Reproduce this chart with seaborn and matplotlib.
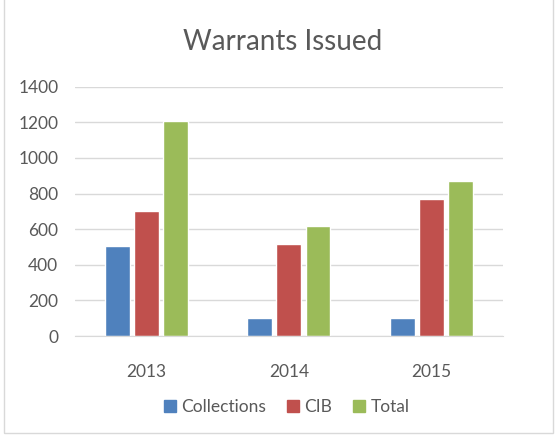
import matplotlib
matplotlib.use('Agg')
import matplotlib.pyplot as plt
import matplotlib.patches as mpatches
import pandas as pd
import seaborn as sns

years = ['2013', '2014', '2015']
collections = [505, 100, 100]
cib = [700, 515, 770]
total = [1205, 615, 870]
series = ['Collections', 'CIB', 'Total']
colors = ['#4F81BD', '#C0504D', '#9BBB59']

df = pd.DataFrame({
    'year': years * 3,
    'series': [s for s in series for _ in years],
    'value': collections + cib + total,
})

sns.set_style('white')
plt.rcParams['font.family'] = ['Lato', 'DejaVu Sans']

fig = plt.figure(figsize=(5.57, 4.37), dpi=100)
ax = fig.add_axes([0.1346, 0.2311, 0.7684, 0.5705])

sns.barplot(data=df, x='year', y='value', hue='series', palette=colors,
            width=0.61, gap=0.14, saturation=1, ax=ax, legend=True)

ax.set_ylim(0, 1400)
ax.set_yticks(range(0, 1401, 200))
ax.yaxis.grid(True, color='#d9d9d9', linewidth=1)
ax.set_axisbelow(True)
for side in ['top', 'right', 'left']:
    ax.spines[side].set_visible(False)
ax.spines['bottom'].set_color('#d9d9d9')
ax.tick_params(axis='both', length=0, colors='#595959', labelsize=12.5)
ax.tick_params(axis='y', pad=12)
ax.tick_params(axis='x', pad=20)
ax.set_xlabel('')
ax.set_ylabel('')

fig.text(0.508, 0.903, 'Warrants Issued', ha='center', va='center',
         fontsize=20, color='#595959')

handles = [mpatches.Patch(color=c, label=s) for s, c in zip(series, colors)]
ax.legend_.remove()
fig.legend(handles=handles, loc='center', bbox_to_anchor=(0.515, 0.068), ncol=3,
           frameon=False, fontsize=12.5, handlelength=0.7, handleheight=0.7,
           handletextpad=0.3, columnspacing=1.2, labelcolor='#595959')

fig.patches.append(mpatches.Rectangle((0.008, 0.01), 0.984, 1.2, transform=fig.transFigure,
                                      fill=False, edgecolor='#d9d9d9', linewidth=1))

fig.savefig('out.png', dpi=100)
